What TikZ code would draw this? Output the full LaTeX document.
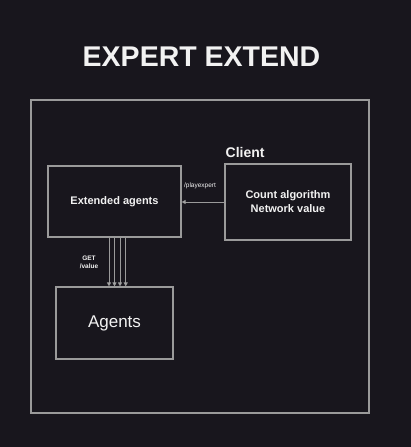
\documentclass[tikz,border=0pt]{standalone}
\usepackage{fontspec}
\setmainfont{Liberation Sans}
\usetikzlibrary{arrows.meta}
\definecolor{bg}{HTML}{18161D}
\definecolor{edge}{HTML}{9A9A9A}
\definecolor{ink}{HTML}{F2F2F2}
\begin{document}
\begin{tikzpicture}[x=1pt,y=-1pt,
  box/.style={draw=edge,line width=1.2pt,fill=bg,inner sep=0pt,align=center,text=ink},
  link/.style={draw=edge,line width=1pt,-{Triangle[length=4pt,width=4pt,fill=ink]}},
  tag/.style={text=ink,font=\bfseries\fontsize{6.5}{8}\selectfont,align=center,inner sep=0pt}]
\fill[bg] (0,0) rectangle (411,447);
\useasboundingbox (0,0) rectangle (411,447);
% title and frame
\node[text=ink,font=\bfseries\fontsize{28.5}{32}\selectfont] (title) at (201.5,57) {EXPERT EXTEND};
\draw[edge,line width=1.2pt] (31,100) rectangle (369,413);
% boxes
\node[box,minimum width=133pt,minimum height=71pt,font=\bfseries\fontsize{11}{13}\selectfont] (ext) at (114.5,201.5) {Extended agents};
\node[box,minimum width=126pt,minimum height=76pt,font=\bfseries\fontsize{11}{14}\selectfont] (client) at (288,202) {Count algorithm\\Network value};
\node[text=ink,font=\bfseries\fontsize{14}{16}\selectfont,anchor=west,inner sep=0pt] (clientlbl) at (225.5,152) {Client};
\node[box,minimum width=117pt,minimum height=72pt,font=\fontsize{17}{20}\selectfont] (agents) at (114.5,323) {Agents};
% connectors
\draw[link] (client.west |- 0,202) -- (ext.east |- 0,202);
\node[tag,font=\fontsize{6.5}{8}\selectfont] (play) at (200,186) {/playexpert};
\foreach \x in {109,114.5,120,125.7}
  \draw[link] (ext.south -| \x,0) -- (agents.north -| \x,0);
\node[tag] (get) at (89,262) {GET\\/value};
\end{tikzpicture}
\end{document}
